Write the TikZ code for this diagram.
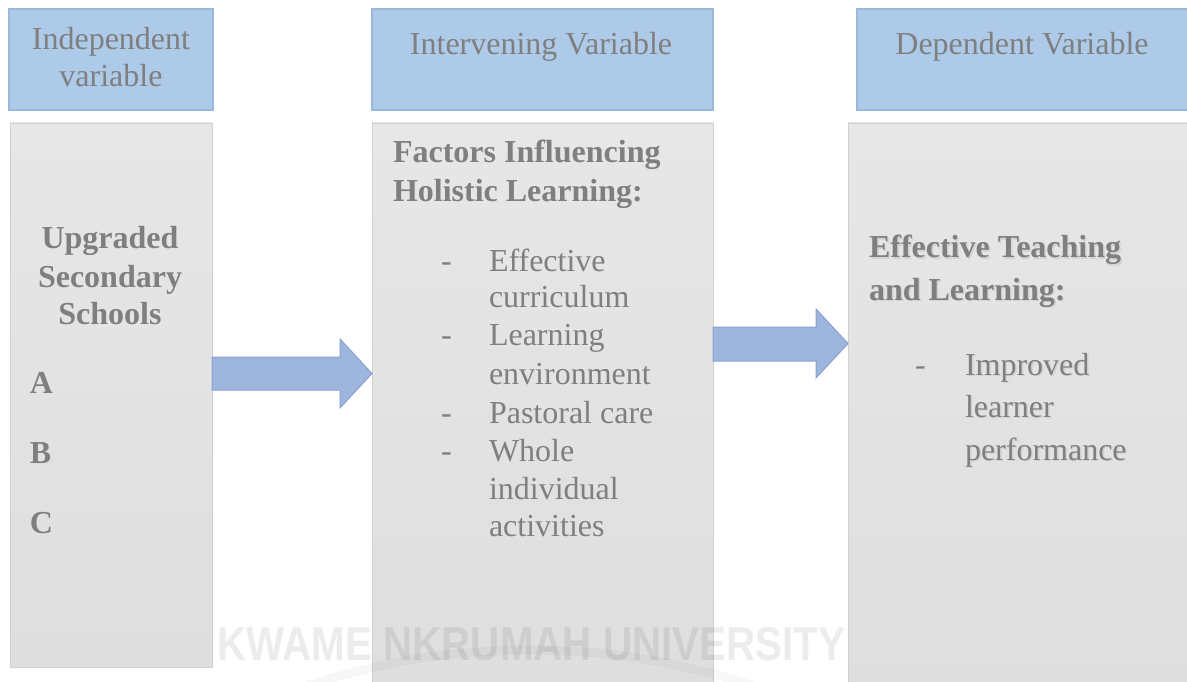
\documentclass[tikz,border=0pt]{standalone}
\usepackage{fontspec}
\setmainfont{Liberation Serif}
\newfontfamily\wmfont{Liberation Sans}
\definecolor{hdrfill}{HTML}{ADCAE9}
\definecolor{hdrline}{HTML}{9AB8DA}
\definecolor{panelTop}{HTML}{E7E7E7}
\definecolor{panelBot}{HTML}{DEDEDE}
\definecolor{panelline}{HTML}{D0D0D0}
\definecolor{txtgray}{HTML}{7F7F7F}
\definecolor{shadowgray}{HTML}{D2D2D2}
\definecolor{arrfill}{HTML}{9EB5DE}
\definecolor{arrline}{HTML}{8AA2CF}
\begin{document}
\begin{tikzpicture}[x=1pt,y=-1pt,
  hdr/.style={draw=hdrline, fill=hdrfill, line width=1.5pt, inner sep=0pt, outer sep=0pt},
  panel/.style={draw=panelline, top color=panelTop, bottom color=panelBot, line width=0.8pt, inner sep=0pt, outer sep=0pt},
  txt/.style={text=txtgray, inner sep=0pt, outer sep=0pt, anchor=base west, font=\fontsize{32}{38}\selectfont},
  ctxt/.style={txt, anchor=base},
  btxt/.style={txt, font=\fontsize{32}{38}\selectfont\bfseries},
  cbtxt/.style={btxt, anchor=base},
  shtxt/.style={btxt, text=shadowgray},
  shrtxt/.style={txt, text=shadowgray},
  bigarrow/.style={fill=arrfill, draw=arrline, line width=1pt, line join=miter},
  watermark/.style={text=black, opacity=0.075, inner sep=0pt, anchor=base,
    font=\wmfont\bfseries\fontsize{47.5}{50}\selectfont, xscale=0.85}
]
\useasboundingbox (0,0) rectangle (1187,682);
\clip (0,0) rectangle (1187,682);
\fill[white] (0,0) rectangle (1187,682);

% column headers
\node[hdr, minimum width=204pt, minimum height=101pt] (h1) at (111,59.5) {};
\node[hdr, minimum width=341pt, minimum height=101pt] (h2) at (542.5,59.5) {};
\node[hdr, minimum width=343pt, minimum height=101pt] (h3) at (1028.5,59.5) {};

% grey panels
\node[panel, minimum width=202pt, minimum height=544pt] (b1) at (111,395) {};
\node[panel, minimum width=341pt, minimum height=577pt] (b2) at (542.5,411.5) {};
\node[panel, minimum width=352pt, minimum height=577pt] (b3) at (1024,411.5) {};

% header labels
\node[ctxt] (h1a) at (111,50) {Independent};
\node[ctxt] (h1b) at (111,87) {variable};
\node[ctxt] (h2a) at (541,55) {Intervening Variable};
\node[ctxt] (h3a) at (1022,55) {Dependent Variable};

% first panel
\node[cbtxt] (s1) at (110,248) {Upgraded};
\node[cbtxt] (s2) at (110,287) {Secondary};
\node[cbtxt] (s3) at (110,324) {Schools};
\node[btxt] (sa) at (30,393) {A};
\node[btxt] (sb) at (30,463) {B};
\node[btxt] (sc) at (30,533) {C};

% second panel
\node[btxt] (f1) at (393,163) {Factors Influencing};
\node[btxt] (f2) at (393,201) {Holistic Learning:};
\node[txt] (d1) at (441,271) {-};
\node[txt] (i1) at (489,271) {Effective};
\node[txt] (i1b) at (489,307) {curriculum};
\node[txt] (d2) at (441,345) {-};
\node[txt] (i2) at (489,345) {Learning};
\node[txt] (i2b) at (489,384) {environment};
\node[txt] (d3) at (441,423) {-};
\node[txt] (i3) at (489,423) {Pastoral care};
\node[txt] (d4) at (441,461) {-};
\node[txt] (i4) at (489,461) {Whole};
\node[txt] (i4b) at (489,499) {individual};
\node[txt] (i4c) at (489,536) {activities};

% third panel, with a soft drop shadow behind the text
\node[shtxt] (e1s) at (870.5,259.5) {Effective Teaching};
\node[shtxt] (e2s) at (870.5,301.5) {and Learning:};
\node[shrtxt] (p1s) at (966.5,376.5) {Improved};
\node[shrtxt] (p2s) at (966.5,418.5) {learner};
\node[shrtxt] (p3s) at (966.5,461.5) {performance};
\node[btxt] (e1) at (869,258) {Effective Teaching};
\node[btxt] (e2) at (869,300) {and Learning:};
\node[txt] (d5) at (915,375) {-};
\node[txt] (p1) at (965,375) {Improved};
\node[txt] (p2) at (965,417) {learner};
\node[txt] (p3) at (965,460) {performance};

% block arrows between the panels
\draw[bigarrow] (b1.east |- 0,357) -- (340,357) -- (340,339) -- (b2.west |- 0,373.5)
  -- (340,408) -- (340,390) -- (b1.east |- 0,390) -- cycle;
\draw[bigarrow] (b2.east |- 0,327) -- (816,327) -- (816,309) -- (b3.west |- 0,343.5)
  -- (816,378) -- (816,361) -- (b2.east |- 0,361) -- cycle;

% faint university watermark
\draw[black, opacity=0.03, line width=9pt] (530,1355) circle (705);
\node[watermark] (wm) at (531.5,660) {KWAME NKRUMAH UNIVERSITY};
\end{tikzpicture}
\end{document}
